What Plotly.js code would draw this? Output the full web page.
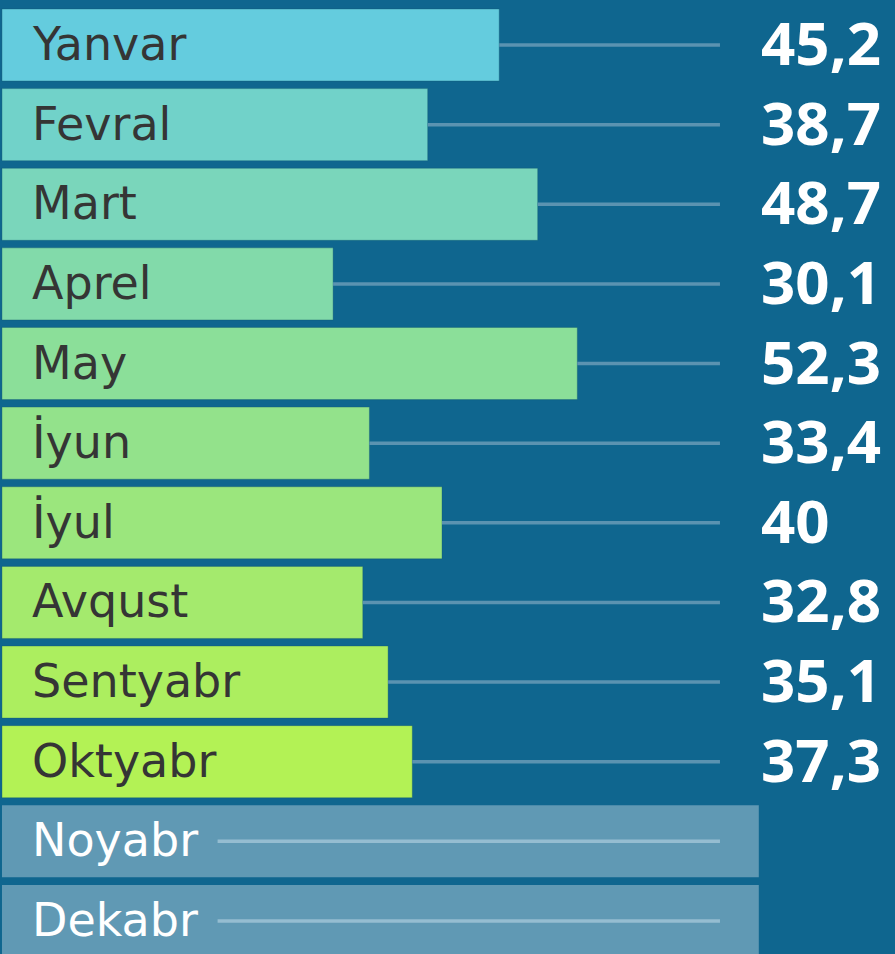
<!DOCTYPE html>
<html>
<head>
<meta charset="utf-8">
<script src="https://cdn.plot.ly/plotly-3.0.1.min.js"></script>
<style>
html,body{margin:0;padding:0;background:#0f668f;}
#chart{width:895px;height:954px;}
</style>
</head>
<body>
<div id="chart"></div>
<script>
// ---- data ----
const months = ["Yanvar","Fevral","Mart","Aprel","May","İyun","İyul","Avqust","Sentyabr","Oktyabr"];
const values = [45.2, 38.7, 48.7, 30.1, 52.3, 33.4, 40, 32.8, 35.1, 37.3];
const pendingMonths = ["Noyabr","Dekabr"];
const barColors = ["#64ccde","#71d2c9","#7ad6bb","#82daaa","#8bdf99","#93e28b","#9be67d","#a4ea6d","#acee5f","#b3f255"];

// ---- styles / layout constants ----
const BG = "#0f668f";
const LINE_END = 65.27;      // connector lines end (axis units)
const VALUE_X = 69.1;        // value label position
const PENDING_LEN = 68.8;    // length of placeholder bars
const PENDING_LINE_START = 19.6;

const allCats = months.concat(pendingMonths);
const fmt = v => String(v).replace('.', ',');

const traces = [];

// connector lines (behind bars)
const lx = [], ly = [];
months.forEach((m, i) => { lx.push(values[i], LINE_END, null); ly.push(m, m, null); });
traces.push({type:'scatter', mode:'lines', x:lx, y:ly, line:{color:'#5b93b1', width:3.5}, hoverinfo:'skip', showlegend:false});

// main bars
traces.push({
  type:'bar', orientation:'h', y:months, x:values, width:0.905,
  marker:{color:barColors, line:{color:'rgba(20,90,110,0.35)', width:1}},
  hoverinfo:'skip', showlegend:false
});

// placeholder bars
traces.push({
  type:'bar', orientation:'h', y:pendingMonths, x:pendingMonths.map(() => PENDING_LEN), width:0.905,
  marker:{color:'#6099b4', line:{width:0}},
  hoverinfo:'skip', showlegend:false
});

// lines on placeholder bars
const px = [], py = [];
pendingMonths.forEach(m => { px.push(PENDING_LINE_START, LINE_END, null); py.push(m, m, null); });
traces.push({type:'scatter', mode:'lines', x:px, y:py, line:{color:'#95bdd1', width:3.5}, hoverinfo:'skip', showlegend:false});

const annotations = allCats.map((c, i) => ({
  x:0, y:c, xref:'x', yref:'y', xanchor:'left', yanchor:'middle',
  xshift:28, yshift:1, showarrow:false, text:c,
  font:{family:'"DejaVu Sans", sans-serif', size:46, color: i < months.length ? '#353535' : '#ffffff'}
}));

// value labels
months.forEach((m, i) => {
  annotations.push({
    x:VALUE_X, y:m, xref:'x', yref:'y', xanchor:'left', yanchor:'middle',
    xshift:-2, yshift:3, showarrow:false, borderpad:0, text:'<b>' + fmt(values[i]) + '</b>',
    font:{family:'"Noto Sans", sans-serif', size:60, color:'#ffffff'}
  });
});

const layout = {
  width:895, height:954,
  margin:{l:0, r:0, t:0, b:0, pad:0},
  paper_bgcolor:BG, plot_bgcolor:BG,
  barmode:'overlay',
  xaxis:{range:[-0.18, 81.18], visible:false, fixedrange:true},
  yaxis:{type:'category', categoryorder:'array', categoryarray:allCats, range:[11.415, -0.565], visible:false, fixedrange:true},
  annotations:annotations,
  showlegend:false
};

Plotly.newPlot('chart', traces, layout, {displayModeBar:false, staticPlot:true});
</script>
</body>
</html>
